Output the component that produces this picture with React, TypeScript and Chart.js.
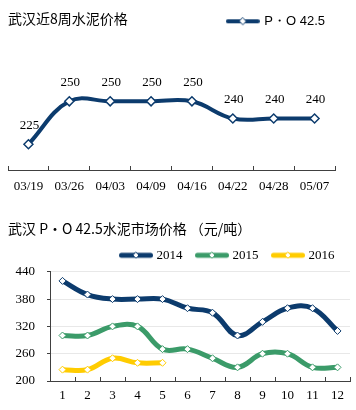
import React, { useEffect, useRef } from "react";
import { Chart, registerables } from "chart.js";

Chart.register(...registerables);

// ---- data ----
const weekLabels = ["03/19", "03/26", "04/03", "04/09", "04/16", "04/22", "04/28", "05/07"];
const weekPrices = [225, 250, 250, 250, 250, 240, 240, 240];

const monthLabels = ["1", "2", "3", "4", "5", "6", "7", "8", "9", "10", "11", "12"];
const price2014 = [420, 390, 380, 380, 380, 360, 350, 300, 330, 360, 360, 310];
const price2015 = [300, 300, 320, 320, 270, 270, 250, 230, 260, 260, 230, 230];
const price2016 = [225, 225, 250, 240, 240];

const topTitle = "武汉近8周水泥价格";
const bottomTitle = "武汉 P・O 42.5水泥市场价格 （元/吨）";
const topSeriesName = "P・O 42.5";
const seriesNames = ["2014", "2015", "2016"];

// ---- styles ----
const NAVY = "#0c3b6d";
const GREEN = "#3b9b69";
const YELLOW = "#ffcc00";
const SERIF = "'Liberation Serif', 'Times New Roman', serif";
const SANS = "'Liberation Sans', Arial, sans-serif";
const CJK = "'Noto Sans CJK SC', sans-serif";
const AXIS = "#404040";

function legendMarker(color: string, w: number, lw: number, r: number) {
  const c = document.createElement("canvas");
  c.width = w;
  c.height = 12;
  const ctx = c.getContext("2d")!;
  ctx.strokeStyle = color;
  ctx.lineWidth = lw;
  ctx.lineCap = "round";
  ctx.beginPath();
  ctx.moveTo(lw / 2, 6);
  ctx.lineTo(w - lw / 2, 6);
  ctx.stroke();
  ctx.beginPath();
  ctx.moveTo(w / 2, 6 - r);
  ctx.lineTo(w / 2 + r, 6);
  ctx.lineTo(w / 2, 6 + r);
  ctx.lineTo(w / 2 - r, 6);
  ctx.closePath();
  ctx.fillStyle = "#fff";
  ctx.fill();
  ctx.lineWidth = 1;
  ctx.strokeStyle = color;
  ctx.stroke();
  return c;
}

const valueLabels = {
  id: "valueLabels",
  afterDatasetsDraw(chart: any) {
    const ctx = chart.ctx;
    const meta = chart.getDatasetMeta(0);
    const data = chart.data.datasets[0].data;
    ctx.save();
    ctx.font = `13px ${SERIF}`;
    ctx.fillStyle = "#000";
    ctx.textAlign = "center";
    ctx.textBaseline = "middle";
    meta.data.forEach((pt: any, i: number) => {
      ctx.fillText(String(data[i]), pt.x + 1, pt.y - 19);
    });
    ctx.restore();
  },
};

function TopChart() {
  const ref = useRef<HTMLCanvasElement>(null);
  useEffect(() => {
    const marker = legendMarker(NAVY, 34, 4, 3.5);
    const chart = new Chart(ref.current!, {
      type: "line",
      data: {
        labels: weekLabels,
        datasets: [
          {
            label: topSeriesName,
            data: weekPrices,
            borderColor: NAVY,
            borderWidth: 4,
            tension: 0.4,
            pointStyle: "rectRot",
            pointRadius: 4.5,
            pointBackgroundColor: "#fff",
            pointBorderColor: NAVY,
            pointBorderWidth: 1.5,
          },
        ],
      },
      options: {
        responsive: false,
        animation: false,
        layout: { padding: { left: 8, right: 21, bottom: 0, top: 0 } },
        plugins: {
          tooltip: { enabled: false },
          title: {
            display: true,
            text: topTitle,
            align: "start",
            color: "#000",
            font: { family: CJK, size: 14, weight: "normal" },
            padding: { top: 10, bottom: -22 },
          },
          legend: {
            display: true,
            position: "top",
            align: "end",
            labels: {
              color: "#000",
              font: { family: SANS, size: 13 },
              usePointStyle: true,
              pointStyleWidth: 30,
              padding: 10,
              generateLabels: (c: any) =>
                Chart.defaults.plugins.legend.labels.generateLabels(c).map((it: any) => ({
                  ...it,
                  pointStyle: marker,
                })),
            },
          },
        },
        scales: {
          x: {
            offset: true,
            afterFit: (s: any) => {
              s.height = 30;
            },
            grid: { drawOnChartArea: false, tickLength: -4, color: AXIS, offset: true },
            border: { color: AXIS, width: 1 },
            ticks: { color: "#000", font: { family: SERIF, size: 13 }, padding: 13, maxRotation: 0, autoSkip: false },
          },
          y: { display: false, min: 210, max: 287 },
        },
      },
      plugins: [valueLabels],
    } as any);
    return () => chart.destroy();
  }, []);
  return <canvas ref={ref} width={356} height={200} style={{ display: "block" }} />;
}

function BottomChart() {
  const ref = useRef<HTMLCanvasElement>(null);
  useEffect(() => {
    const colors = [NAVY, GREEN, YELLOW];
    const markers = colors.map((c) => legendMarker(c, 34, 5, 3));
    const series = [price2014, price2015, price2016];
    const chart = new Chart(ref.current!, {
      type: "line",
      data: {
        labels: monthLabels,
        datasets: series.map((d, i) => ({
          label: seriesNames[i],
          data: d,
          borderColor: colors[i],
          borderWidth: 5,
          tension: 0.4,
          pointStyle: "rectRot",
          pointRadius: 3.5,
          pointBackgroundColor: "#fff",
          pointBorderColor: colors[i],
          pointBorderWidth: 1,
        })),
      },
      options: {
        responsive: false,
        animation: false,
        layout: { padding: { left: 8, right: 6, bottom: 0, top: 0 } },
        plugins: {
          tooltip: { enabled: false },
          title: {
            display: true,
            text: bottomTitle,
            align: "start",
            color: "#000",
            font: { family: CJK, size: 14, weight: "normal" },
            padding: { top: 20, bottom: -3.5 },
          },
          legend: {
            display: true,
            position: "top",
            align: "end",
            labels: {
              color: "#000",
              font: { family: SERIF, size: 13 },
              usePointStyle: true,
              pointStyleWidth: 28,
              padding: 15.5,
              generateLabels: (c: any) =>
                Chart.defaults.plugins.legend.labels.generateLabels(c).map((it: any, i: number) => ({
                  ...it,
                  pointStyle: markers[i],
                })),
            },
          },
        },
        scales: {
          x: {
            offset: true,
            afterFit: (s: any) => {
              s.height = 29;
            },
            grid: { drawOnChartArea: false, tickLength: -4, color: AXIS, offset: true },
            border: { color: AXIS, width: 1 },
            ticks: { color: "#000", font: { family: SERIF, size: 13 }, padding: 11, maxRotation: 0, autoSkip: false },
          },
          y: {
            min: 200,
            max: 440,
            afterFit: (s: any) => {
              s.width = 42;
            },
            grid: { color: "#e8e8e8", tickColor: AXIS, tickLength: 3 },
            border: { color: AXIS, width: 1 },
            ticks: { stepSize: 60, color: "#000", font: { family: SERIF, size: 13 }, padding: 12 },
          },
        },
      },
    } as any);
    return () => chart.destroy();
  }, []);
  return <canvas ref={ref} width={356} height={210} style={{ display: "block" }} />;
}

export default function App() {
  return (
    <div style={{ position: "absolute", left: 0, top: 0, width: 356, height: 410, background: "#fff" }}>
      <TopChart />
      <BottomChart />
    </div>
  );
}
